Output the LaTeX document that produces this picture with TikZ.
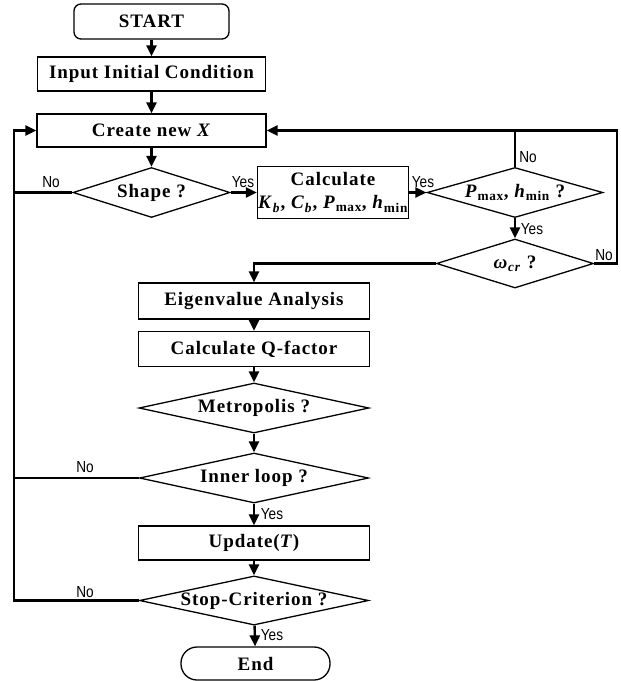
\documentclass[tikz,border=0pt]{standalone}
\usepackage{fontspec}
\usepackage{graphicx}
\setmainfont{Liberation Serif}[LetterSpace=5]
\newfontfamily\lblfont{Liberation Sans}
\usetikzlibrary{shapes.geometric,arrows.meta}
\newcommand\yn[1]{\scalebox{0.85}[1]{\lblfont\fontsize{16}{16}\selectfont #1}}
\newcommand\sbt[1]{\textsubscript{#1}}
\begin{document}
\begin{tikzpicture}[x=1pt,y=-1pt,
  txt/.style={font=\fontsize{19}{24}\selectfont\bfseries},
  box/.style={draw, line width=1.3pt, txt, minimum width=#1, minimum height=34pt, inner sep=0pt},
  term/.style={draw, line width=1.3pt, txt, inner sep=0pt},
  decision/.style={draw, diamond, line width=1.3pt, txt, minimum height=50pt, inner sep=0pt, shape aspect=4.6},
  conn/.style={line width=2.4pt, line join=miter},
  arr/.style={conn, -{Triangle[length=11pt,width=10pt]}},
  lbl/.style={inner sep=0pt}
]
\useasboundingbox (0,0) rectangle (621,681);
% column nodes
\node[term, minimum width=155pt, minimum height=35pt, rounded corners=7pt] (start) at (151.5,21.5) {START};
\node[box=228] (input) at (151.5,74) {Input Initial Condition};
\node[box=229, minimum height=33pt] (create) at (151.5,130.5) {Create new \textit{X}};
\node[decision, minimum width=157pt] (shape) at (151.5,192.5) {Shape ?};
\node[box=151, minimum height=52pt, align=center, font=\fontsize{19}{25}\selectfont\bfseries] (calc) at (333,192.5) {Calculate\\[-2pt]\textit{K}\sbt{\textit{b}}, \textit{C}\sbt{\textit{b}}, \textit{P}\sbt{max}, \textit{h}\sbt{min}};
\node[decision, minimum width=164pt] (pm) at (515,192.5) {\textit{P}\sbt{max}, \textit{h}\sbt{min} ?};
\node[decision, minimum width=157pt, minimum height=49pt] (om) at (515,263.5) {\textit{ω}\sbt{\textit{cr}} ?};
\node[box=231, minimum height=36pt] (eig) at (254,301) {Eigenvalue Analysis};
\node[box=231, minimum height=35pt] (qf) at (254,349) {Calculate Q-factor};
\node[decision, minimum width=230pt] (met) at (254,408) {Metropolis ?};
\node[decision, minimum width=229pt] (inner) at (254,478) {Inner loop ?};
\node[box=231] (upd) at (254,543) {Update(\textit{T})};
\node[decision, minimum width=229pt, minimum height=49pt] (stop) at (254,600.5) {Stop-Criterion ?};
\node[term, minimum width=149pt, minimum height=33pt, rounded corners=16pt] (end) at (255.5,663.5) {End};
% loop coordinates
\coordinate (lt) at (14,130.5);
\coordinate (lb) at (14,600.5);
\coordinate (rt) at (617,130.5);
\coordinate (rb) at (617,263.5);
% connectors
\draw[arr] (start) -- (input);
\draw[arr] (input) -- (create);
\draw[arr] (create) -- (shape);
\draw[arr] (shape.east) -- (calc.west);
\draw[arr] (calc.east) -- (pm.west);
\draw[arr] (pm.south) -- (om.north);
\draw[arr] (om.west) -| (eig.north);
\draw[arr] (eig) -- (qf);
\draw[arr] (qf) -- (met);
\draw[arr] (met) -- (inner);
\draw[arr] (inner) -- (upd);
\draw[arr] (upd) -- (stop);
\draw[arr] (stop) -- (end);
\draw[arr] (stop.west) -- (lb) -- (lt) -- (create.west);
\draw[conn] (shape.west) -- (shape.west -| lt);
\draw[conn] (inner.west) -- (inner.west -| lt);
\draw[arr] (om.east) -- (rb) -- (rt) -- (create.east);
\draw[conn] (pm.north) -- (pm.north |- rt);
% labels
\node[lbl] (n1) at (51,182) {\yn{No}};
\node[lbl] (y1) at (243,182) {\yn{Yes}};
\node[lbl] (y2) at (423,182) {\yn{Yes}};
\node[lbl] (n2) at (528,157) {\yn{No}};
\node[lbl] (y3) at (532,229) {\yn{Yes}};
\node[lbl] (n3) at (604,255) {\yn{No}};
\node[lbl] (n4) at (85,467) {\yn{No}};
\node[lbl] (y4) at (272,514) {\yn{Yes}};
\node[lbl] (n5) at (85,592) {\yn{No}};
\node[lbl] (y5) at (272,635) {\yn{Yes}};
\end{tikzpicture}
\end{document}
